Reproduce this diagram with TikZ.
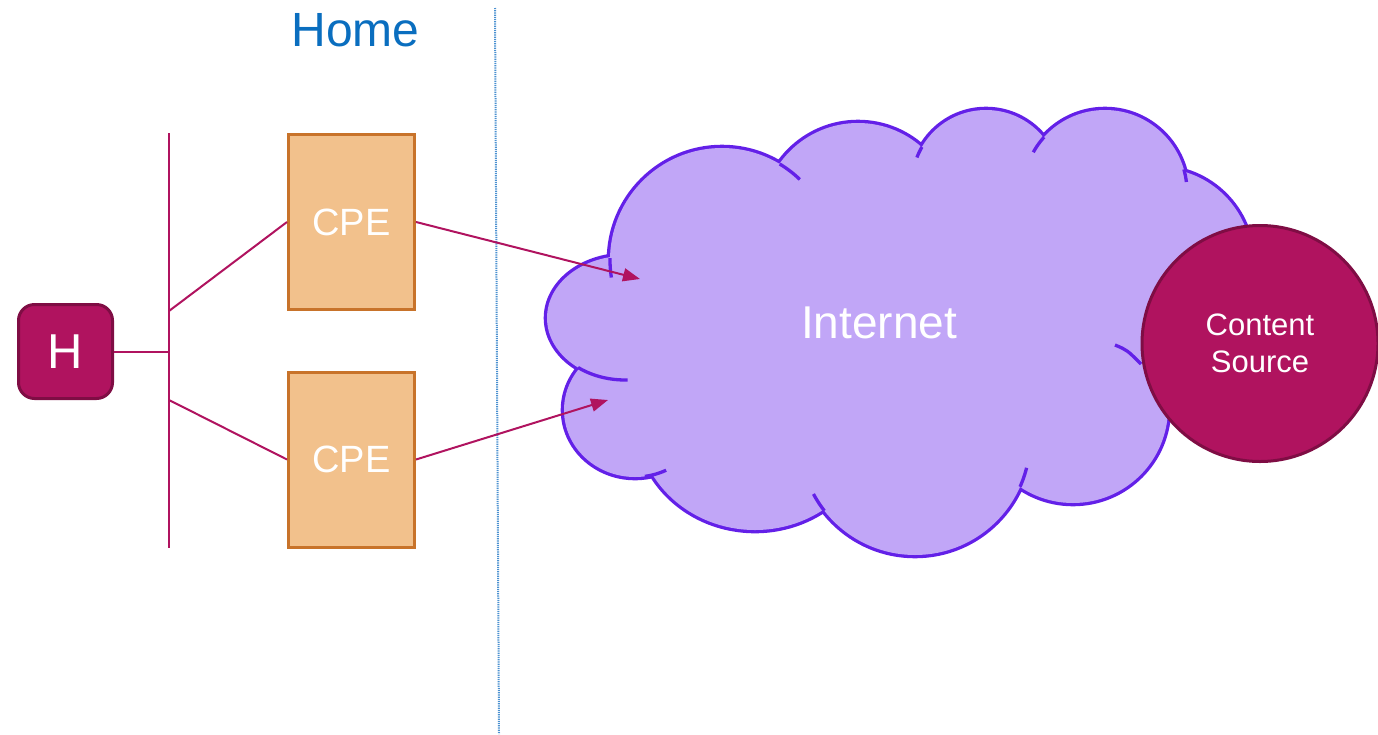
\documentclass[tikz,border=0pt]{standalone}
\usepackage{fontspec}
\setmainfont{Liberation Sans}
\usetikzlibrary{arrows.meta}

\definecolor{berry}{HTML}{B0135F}
\definecolor{berrydark}{HTML}{7F0D44}
\definecolor{peach}{HTML}{F2C18C}
\definecolor{peachdark}{HTML}{C8732A}
\definecolor{lilac}{HTML}{C1A6F7}
\definecolor{cloudline}{HTML}{6320E8}
\definecolor{homeblue}{HTML}{0A6EBF}
\definecolor{sepblue}{HTML}{4A90D0}

% lobes of the cloud, in pixel units
\newcommand{\cloudlobes}{%
  (722,260) circle [radius=112]
  (858,219) circle [radius=96]
  (986,184) circle [radius=74]
  (1105,192) circle [radius=82]
  (1158,262) circle [radius=94]
  (1073,408) circle [radius=95]
  (915,440) circle [radius=115]
  (755,420) ellipse [x radius=118, y radius=110]
  (635,410) ellipse [x radius=71, y radius=67]
  (625,318) ellipse [x radius=78, y radius=62]}

\begin{document}
\begin{tikzpicture}[
  x=1pt, y=-1pt,
  hbox/.style={draw=berrydark, fill=berry, line width=3, rounded corners=16,
               minimum size=94, inner sep=0, text=white,
               font=\fontsize{49}{50}\selectfont},
  cpebox/.style={draw=peachdark, fill=peach, line width=3, minimum width=126,
                 minimum height=175, inner sep=0, text=white,
                 font=\fontsize{38}{40}\selectfont},
  srcnode/.style={circle, draw=berrydark, fill=berry, line width=3,
                  minimum size=236, inner sep=0, text=white, align=center,
                  font=\fontsize{31}{37}\selectfont},
  wire/.style={berry, line width=2},
  flow/.style={berry, line width=2, -{Triangle[length=17pt, width=13pt]}},
  sep/.style={sepblue, line width=2, dash pattern=on 1.2pt off 1pt},
  stub/.style={cloudline, line width=3.3, samples=12}
]
\useasboundingbox (0,0) rectangle (1378,734);

\node[text=homeblue, font=\fontsize{48}{50}\selectfont] (home) at (355.5,30) {Home};

\coordinate (septop) at (495,8);
\coordinate (sepbot) at (499,734);
\draw[sep] (septop) -- (sepbot);

% cloud: wide outline first, fill on top leaves the outer edge
\draw[cloudline, line width=6.6] \cloudlobes;
\fill[lilac] \cloudlobes;
\fill[lilac] (722,260) -- (858,219) -- (986,184) -- (1105,192) -- (1158,262)
  -- (1073,408) -- (915,440) -- (755,420) -- (635,410) -- (625,318) -- cycle;
\draw[stub] plot[domain=-59:-46] ({722+112*cos(\x)},{260+112*sin(\x)});
\draw[stub] plot[domain=171:181] ({722+112*cos(\x)},{260+112*sin(\x)});
\draw[stub] plot[domain=-159:-150] ({986+74*cos(\x)},{184+74*sin(\x)});
\draw[stub] plot[domain=-151:-138] ({1105+82*cos(\x)},{192+82*sin(\x)});
\draw[stub] plot[domain=-16:-7] ({1105+82*cos(\x)},{192+82*sin(\x)});
\draw[stub] plot[domain=14:24] ({915+115*cos(\x)},{440+115*sin(\x)});
\draw[stub] plot[domain=142:152] ({915+115*cos(\x)},{440+115*sin(\x)});
\draw[stub] plot[domain=64:82] ({635+71*cos(\x)},{410+67*sin(\x)});
\draw[stub] plot[domain=88:127] ({625+78*cos(\x)},{318+62*sin(\x)});
\draw[stub] (1115,345) .. controls (1127,350) .. (1141,364);

\node[text=white, font=\fontsize{46}{50}\selectfont] (net) at (879,323) {Internet};

\node[hbox] (h) at (65.5,351.5) {H};
\node[cpebox] (cpe1) at (351.5,222) {CPE};
\node[cpebox] (cpe2) at (351.5,459.5) {CPE};

\coordinate (bustop) at (169,133);
\coordinate (busbot) at (169,548);
\coordinate (tap1) at (169,311);
\coordinate (tap2) at (169,400);
\draw[wire] (bustop) -- (busbot);
\draw[wire] (h.east) -- (h.east -| bustop);
\draw[wire] (tap1) -- (cpe1.west);
\draw[wire] (tap2) -- (cpe2.west);

\coordinate (in1) at (640,279);
\coordinate (in2) at (608,400);
\draw[flow] (cpe1.east) -- (in1);
\draw[flow] (cpe2.east) -- (in2);

\node[srcnode] (src) at (1260,343.5) {Content\\Source};
\end{tikzpicture}
\end{document}
